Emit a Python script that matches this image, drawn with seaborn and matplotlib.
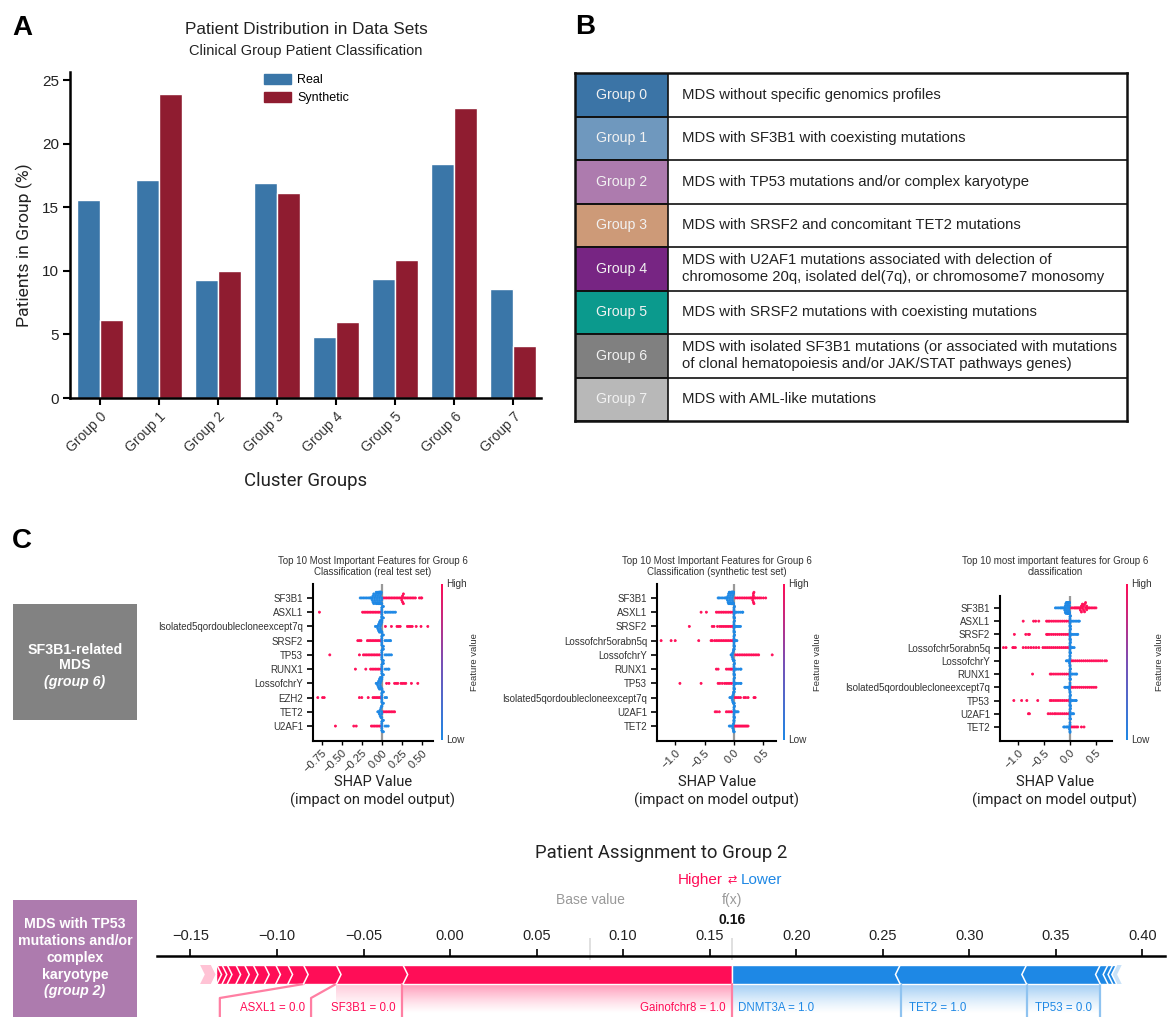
import warnings
import numpy as np
import pandas as pd
import matplotlib
matplotlib.use("Agg")
import matplotlib.pyplot as plt
from matplotlib import font_manager as fm
from matplotlib.colors import LinearSegmentedColormap, to_rgb
from matplotlib.patches import Patch
import seaborn as sns

warnings.filterwarnings("ignore")
W, H = 1175, 1029

groups = ["Group 0", "Group 1", "Group 2", "Group 3", "Group 4", "Group 5", "Group 6", "Group 7"]
real_pct = [15.6, 17.1, 9.25, 16.9, 4.8, 9.35, 18.4, 8.55]
synth_pct = [6.1, 23.9, 9.95, 16.1, 5.95, 10.85, 22.8, 4.05]
group_colors = ["#3B74A6", "#6F98BE", "#AD7BAE", "#CD9A78", "#772583", "#0B9A8D", "#808080", "#B8B8B8"]
group_desc = [
    "MDS without specific genomics profiles",
    "MDS with SF3B1 with coexisting mutations",
    "MDS with TP53 mutations and/or complex karyotype",
    "MDS with SRSF2 and concomitant TET2 mutations",
    "MDS with U2AF1 mutations associated with delection of\nchromosome 20q, isolated del(7q), or chromosome7 monosomy",
    "MDS with SRSF2 mutations with coexisting mutations",
    "MDS with isolated SF3B1 mutations (or associated with mutations\nof clonal hematopoiesis and/or JAK/STAT pathways genes)",
    "MDS with AML-like mutations",
]

# SHAP beeswarm, real test set
names_1 = ["SF3B1", "ASXL1", "Isolated5qordoublecloneexcept7q", "SRSF2", "TP53", "RUNX1", "LossofchrY", "EZH2", "TET2", "U2AF1"]
high_1 = [
    [0.02, 0.04, 0.06, 0.08, 0.10, 0.12, 0.14, 0.16, 0.18, 0.20, 0.22, 0.24, 0.25, 0.25, 0.26, 0.26, 0.27, 0.27, 0.28, 0.30, 0.32, 0.34, 0.36, 0.38, 0.40, 0.42, 0.47, 0.49, 0.50],
    [-0.78, -0.24, -0.22, -0.20, -0.18, -0.16, -0.14, -0.12, -0.10, -0.08, -0.06, -0.04, -0.02],
    [0.045, 0.12, 0.19, 0.21, 0.23, 0.32, 0.34, 0.36, 0.38, 0.43, 0.49, 0.575],
    [-0.30, -0.28, -0.26, -0.18, -0.16, -0.14, -0.12, -0.10, -0.08, -0.06, -0.04, -0.02],
    [-0.65, -0.28, -0.23, -0.21, -0.19, -0.17, -0.15, -0.13, -0.11, -0.09, -0.07, -0.05, -0.03],
    [-0.33, -0.20, -0.14, -0.12, -0.10, -0.08, -0.06, -0.04, -0.02],
    [0.06, 0.09, 0.16, 0.18, 0.20, 0.24, 0.26, 0.28, 0.30, 0.37, 0.45],
    [-0.80, -0.74, -0.72, -0.28, -0.25, -0.17, -0.11, -0.09, -0.07, -0.05, -0.03, -0.01],
    [0.02, 0.04, 0.06, 0.08, 0.10, 0.12, 0.14, 0.16],
    [-0.58, -0.35, -0.32, -0.13, -0.11, -0.09, -0.07, -0.05, -0.03, -0.01],
]
low_1 = [
    [-0.27, -0.25, -0.23, -0.21, -0.19, -0.17, -0.15, -0.14, -0.13, -0.12, -0.12, -0.11, -0.11, -0.10, -0.10, -0.09, -0.09, -0.08, -0.08, -0.07, -0.07, -0.07, -0.06, -0.06, -0.06, -0.05, -0.05, -0.05, -0.04, -0.04, -0.04, -0.04] + [-0.03] * 5 + [-0.02] * 7 + [-0.01] * 7 + [0.0] * 3,
    [0.0] * 6 + [0.01, 0.01, 0.02, 0.02, 0.04, 0.05, 0.07, 0.09, 0.11, 0.13, 0.15, 0.17],
    [-0.08, -0.06, -0.05, -0.05, -0.04, -0.04, -0.03, -0.03, -0.02, -0.02, -0.02] + [-0.01] * 4 + [0.0] * 6,
    [0.0] * 5 + [0.01, 0.01, 0.02, 0.02, 0.04, 0.06, 0.08, 0.10, 0.11],
    [0.0] * 5 + [0.01, 0.01, 0.02, 0.02, 0.04, 0.06, 0.08, 0.10, 0.12],
    [0.0] * 5 + [0.01, 0.01, 0.02, 0.02, 0.04, 0.06, 0.08, 0.09],
    [-0.07, -0.06, -0.05, -0.05, -0.04, -0.04, -0.03, -0.03, -0.02, -0.02, -0.02] + [-0.01] * 4 + [0.0] * 6,
    [0.0] * 5 + [0.01, 0.01, 0.02, 0.02, 0.04, 0.06],
    [-0.05, -0.04, -0.03, -0.03, -0.02, -0.02, -0.01, -0.01] + [0.0] * 5,
    [0.0] * 5 + [0.01, 0.01, 0.02, 0.02, 0.04, 0.06, 0.08],
]

# SHAP beeswarm, synthetic test set
names_2 = ["SF3B1", "ASXL1", "SRSF2", "Lossofchr5orabn5q", "LossofchrY", "RUNX1", "TP53", "Isolated5qordoublecloneexcept7q", "U2AF1", "TET2"]
high_2 = [
    [0.03, 0.06, 0.09, 0.12, 0.15, 0.18, 0.21, 0.24, 0.27, 0.29, 0.31, 0.32, 0.32, 0.33, 0.33, 0.33, 0.34, 0.34, 0.35, 0.37, 0.40, 0.43, 0.46, 0.50, 0.54],
    [-0.56, -0.47, -0.30, -0.27, -0.24, -0.21, -0.18, -0.15, -0.12, -0.09, -0.06, -0.03],
    [-0.76, -0.37, -0.34, -0.28, -0.24, -0.21, -0.18, -0.15, -0.12, -0.09, -0.06, -0.03],
    [-1.24, -1.07, -1.00, -0.60, -0.39, -0.37, -0.33, -0.30, -0.27, -0.24, -0.21, -0.18, -0.15, -0.12, -0.09, -0.06, -0.03],
    [0.03, 0.06, 0.09, 0.12, 0.15, 0.18, 0.21, 0.24, 0.27, 0.30, 0.33, 0.36, 0.39, 0.42, 0.65],
    [-0.30, -0.27, -0.13, -0.10, -0.07, -0.05, -0.03],
    [-0.92, -0.56, -0.27, -0.24, -0.20, -0.16, -0.13, -0.10, -0.07, -0.04],
    [0.02, 0.05, 0.08, 0.11, 0.17, 0.20, 0.24, 0.34, 0.36],
    [-0.32, -0.29, -0.25, -0.13, -0.10, -0.07, -0.04],
    [0.02, 0.04, 0.06, 0.08, 0.10, 0.12, 0.14, 0.16, 0.18, 0.20, 0.22, 0.24],
]
low_2 = [
    [-0.27, -0.25, -0.22, -0.19, -0.16, -0.14, -0.13, -0.12, -0.11, -0.11, -0.10, -0.10, -0.09, -0.09, -0.08, -0.08, -0.07, -0.07, -0.07, -0.06, -0.06, -0.06, -0.05, -0.05, -0.05] + [-0.04] * 5 + [-0.03] * 6 + [-0.02] * 7 + [-0.01] * 7,
    [0.0] * 6 + [0.01, 0.01, 0.02, 0.03, 0.05, 0.08, 0.11, 0.14, 0.15],
    [0.0] * 6 + [0.01, 0.01, 0.02, 0.03, 0.05, 0.07, 0.09, 0.11],
    [0.0] * 6 + [0.01, 0.01, 0.02, 0.03, 0.05],
    [-0.05, -0.04, -0.03, -0.03, -0.02, -0.02, -0.01, -0.01] + [0.0] * 6,
    [0.0] * 6 + [0.01, 0.01, 0.02, 0.03, 0.05, 0.08, 0.11, 0.12],
    [0.0] * 6 + [0.01, 0.01, 0.02, 0.03, 0.05, 0.08, 0.11, 0.12],
    [-0.07, -0.05, -0.03, -0.03, -0.02, -0.02, -0.01, -0.01] + [0.0] * 6,
    [0.0] * 6 + [0.01, 0.01, 0.02, 0.03, 0.05, 0.07],
    [-0.08, -0.06, -0.04, -0.02, -0.02, -0.01, -0.01] + [0.0] * 6,
]

# SHAP beeswarm, third panel
names_3 = ["SF3B1", "ASXL1", "SRSF2", "Lossofchr5orabn5q", "LossofchrY", "RUNX1", "Isolated5qordoublecloneexcept7q", "TP53", "U2AF1", "TET2"]
high_3 = [
    [0.02, 0.05, 0.08, 0.10, 0.12, 0.14, 0.16, 0.18, 0.20, 0.20, 0.22, 0.22, 0.24, 0.24, 0.26, 0.26, 0.28, 0.28, 0.30, 0.30, 0.32, 0.32, 0.34, 0.36, 0.38, 0.41, 0.44, 0.47, 0.50],
    [-0.90, -0.70, -0.66, -0.60, -0.45, -0.42, -0.39, -0.35, -0.31, -0.27, -0.23, -0.19, -0.15, -0.11, -0.07, -0.03],
    [-1.07, -0.85, -0.80, -0.78, -0.45, -0.43, -0.40, -0.36, -0.32, -0.28, -0.24, -0.20, -0.16, -0.12, -0.08, -0.04],
    [-1.28, -1.23, -1.10, -1.08, -1.05, -0.90, -0.85, -0.80, -0.75, -0.70, -0.65, -0.60, -0.52, -0.48, -0.44, -0.40, -0.36, -0.32, -0.28, -0.24, -0.20, -0.16, -0.12, -0.08, -0.04],
    [0.03, 0.06, 0.10, 0.14, 0.18, 0.22, 0.26, 0.30, 0.34, 0.38, 0.42, 0.46, 0.50, 0.54, 0.58, 0.62, 0.67, 0.70],
    [-0.72, -0.38, -0.35, -0.31, -0.27, -0.23, -0.19, -0.15, -0.11, -0.07, -0.03],
    [0.03, 0.06, 0.10, 0.14, 0.18, 0.22, 0.26, 0.30, 0.34, 0.38, 0.42, 0.46, 0.50],
    [-1.08, -0.93, -0.83, -0.62, -0.38, -0.35, -0.31, -0.27, -0.23, -0.19, -0.15, -0.11, -0.07, -0.03],
    [-0.80, -0.78, -0.42, -0.38, -0.34, -0.30, -0.27, -0.23, -0.19, -0.15, -0.11, -0.07, -0.03],
    [0.03, 0.06, 0.09, 0.12, 0.15, 0.22, 0.27],
]
low_3 = [
    [-0.28, -0.25, -0.22, -0.19, -0.17, -0.15, -0.13, -0.11, -0.10, -0.10, -0.09, -0.09, -0.08, -0.08, -0.07, -0.07, -0.06, -0.06, -0.06, -0.05, -0.05, -0.05] + [-0.04] * 5 + [-0.03] * 6 + [-0.02] * 7 + [-0.01] * 6,
    [0.0] * 6 + [0.01, 0.01, 0.02, 0.04, 0.07, 0.10, 0.13, 0.16, 0.18],
    [0.0] * 6 + [0.01, 0.01, 0.02, 0.04, 0.07, 0.10, 0.13, 0.15],
    [0.0] * 6 + [0.01, 0.01, 0.03, 0.05, 0.08],
    [-0.07, -0.05, -0.03, -0.01, -0.01] + [0.0] * 5,
    [0.0] * 6 + [0.01, 0.01, 0.03, 0.05, 0.08, 0.11, 0.13],
    [-0.10, -0.08, -0.05, -0.03, -0.01, -0.01] + [0.0] * 4,
    [0.0] * 6 + [0.01, 0.01, 0.03, 0.05, 0.08, 0.11, 0.12],
    [0.0] * 6 + [0.01, 0.01, 0.03, 0.05, 0.07],
    [-0.12, -0.10, -0.07, -0.05, -0.03, -0.01, -0.01] + [0.0] * 4,
]

# Force plot
force_ticks = [-0.15, -0.10, -0.05, 0.00, 0.05, 0.10, 0.15, 0.20, 0.25, 0.30, 0.35, 0.40]
force_start = -0.1444
force_end = 0.388
base_value = 0.081
fx_value = 0.163
high_edges = [-0.135, -0.132, -0.129, -0.126, -0.121, -0.116, -0.111, -0.1045, -0.098, -0.091, -0.082, -0.063, -0.0245]
low_edges = [0.260, 0.333, 0.3756, 0.380, 0.3828, 0.385]

PINK, BLUE = "#FF0D57", "#1E88E5"

sns.set_theme(style="ticks")
avail = {f.name for f in fm.fontManager.ttflist}
NARROW = "Liberation Sans Narrow" if "Liberation Sans Narrow" in avail else "Roboto"
BODY = "Liberation Sans"
plt.rcParams["font.family"] = [BODY, "DejaVu Sans"]
plt.rcParams["axes.edgecolor"] = "black"
plt.rcParams["xtick.color"] = "black"
plt.rcParams["ytick.color"] = "black"
plt.rcParams["text.color"] = "black"

fig = plt.figure(figsize=(W / 100, H / 100), dpi=100, facecolor="white")


def axpx(l, t, r, b, **kw):
    return fig.add_axes([l / W, 1 - b / H, (r - l) / W, (b - t) / H], **kw)


def tx(x, y, s, **kw):
    kw.setdefault("ha", "center")
    kw.setdefault("va", "center")
    return fig.text(x / W, 1 - y / H, s, **kw)


# ---------- Panel A
axA = axpx(70, 72, 541, 398)
dfA = pd.DataFrame({
    "group": groups * 2,
    "pct": real_pct + synth_pct,
    "set": ["Real"] * len(groups) + ["Synthetic"] * len(groups),
})
sns.barplot(data=dfA, x="group", y="pct", hue="set", palette=["#3A76A8", "#8F1C30"], saturation=1,
            width=0.78, gap=0, errorbar=None, legend=False, ax=axA)
axA.set_xlim(-0.51, 7.47)
axA.set_ylim(0, 25.63)
axA.set_xlabel("")
axA.set_ylabel("")
sns.despine(ax=axA)
for s in ("left", "bottom"):
    axA.spines[s].set_linewidth(1.8)
axA.set_yticks([0, 5, 10, 15, 20, 25])
axA.tick_params(axis="y", labelsize=11, width=1.5, length=5, pad=3)
axA.tick_params(axis="x", labelsize=10, width=1.5, length=5, pad=3)
plt.setp(axA.get_xticklabels(), rotation=45, ha="right", rotation_mode="anchor", color="#333333")
plt.setp(axA.get_yticklabels(), color="#222222")
axA.legend(handles=[Patch(color="#3A76A8", label="Real"), Patch(color="#8F1C30", label="Synthetic")],
           loc="upper left", bbox_to_anchor=((253 - 70) / 471, 1.028), frameon=False, fontsize=9,
           handlelength=2.15, handleheight=0.8, labelspacing=0.48, handletextpad=0.5)
tx(306, 30, "Patient Distribution in Data Sets", fontsize=12.3, color="#222222")
tx(306, 51, "Clinical Group Patient Classification", fontsize=10.5, color="#222222")
tx(24, 245, "Patients in Group (%)", fontsize=12.6, rotation=90, family=NARROW, color="#222222")
tx(306, 481, "Cluster Groups", fontsize=13.4, family=NARROW, color="#222222")
tx(22, 28, "A", fontsize=20, fontweight="bold")
tx(585, 27, "B", fontsize=20, fontweight="bold")
tx(22, 541, "C", fontsize=20, fontweight="bold")

# ---------- Panel B
axB = axpx(575, 73, 1127, 421)
axB.barh(range(len(groups)), 93, height=1, left=0, color=group_colors, edgecolor="#111111", linewidth=1.2)
axB.set_xlim(0, 552)
axB.set_ylim(len(groups) - 0.5, -0.5)
axB.set_xticks([])
axB.set_yticks([])
axB.hlines(np.arange(0.5, len(groups) - 0.5), 0, 552, color="#111111", lw=1.2)
for s in axB.spines.values():
    s.set_linewidth(1.8)
    s.set_color("#111111")
for i, (g, d) in enumerate(zip(groups, group_desc)):
    axB.text(46.5, i, g, ha="center", va="center", color="#F2F2F2", fontsize=10.2)
    axB.text(107, i, d, ha="left", va="center", color="#222222", fontsize=10.7, linespacing=1.25)

# ---------- Panel C: beeswarms
cmap = LinearSegmentedColormap.from_list("shap", [BLUE, "#7A4FB5", PINK])
swarm_axes = []


def beeswarm(box, names, highs, lows, xt, xl, yl, title, tcx, cbx, fvx):
    ax = axpx(*box)
    swarm_axes.append(ax)
    rows = []
    for n, hi, lo in zip(names, highs, lows):
        rows += [(n, v, "High") for v in hi] + [(n, v, "Low") for v in lo]
    df = pd.DataFrame(rows, columns=["feature", "shap", "level"])
    stacked = df.duplicated(subset=["feature", "shap", "level"], keep=False)
    ax.axvline(0, color="#999999", lw=1.6, zorder=1)
    common = dict(x="shap", y="feature", hue="level", order=names, hue_order=["High", "Low"],
                  palette=[PINK, BLUE], size=1.5, linewidth=0, orient="h", legend=False, ax=ax, zorder=3)
    # single readings lie on the row line, repeated readings pile up around it
    sns.stripplot(data=df[~stacked], jitter=False, **common)
    sns.swarmplot(data=df[stacked], warn_thresh=1, **common)
    ax.set_xlim(*xl)
    ax.set_ylim(*yl)
    ax.set_xlabel("")
    ax.set_ylabel("")
    sns.despine(ax=ax)
    for s in ("left", "bottom"):
        ax.spines[s].set_linewidth(1.5)
    ax.set_xticks(xt[0])
    ax.set_xticklabels(xt[1], rotation=45, ha="right", rotation_mode="anchor", fontsize=8, color="#333333")
    ax.tick_params(axis="x", width=1, length=3, pad=2)
    ax.tick_params(axis="y", width=1.2, length=4, pad=3, labelsize=7, labelcolor="#333333")
    tx(tcx, 566.5, title, fontsize=7, color="#333333", linespacing=1.1)
    tx(tcx, 782, "SHAP Value", fontsize=10.5, family=NARROW, color="#222222")
    tx(tcx, 800.5, "(impact on model output)", fontsize=10.5, family=NARROW, color="#222222")
    cb = axpx(cbx - 1, 584, cbx + 1, 740)
    cb.imshow(np.linspace(1, 0, 128)[:, None], aspect="auto", cmap=cmap)
    cb.axis("off")
    tx(cbx + 4, 584, "High", fontsize=7.2, ha="left", color="#333333")
    tx(cbx + 4, 740, "Low", fontsize=7.2, ha="left", color="#333333")
    tx(fvx, 662, "Feature value", fontsize=6.8, rotation=90, color="#333333")


beeswarm((313, 584, 433, 741), names_1, high_1, low_1,
         ([-0.75, -0.50, -0.25, 0.0, 0.25, 0.50], ["−0.75", "−0.50", "−0.25", "0.00", "0.25", "0.50"]),
         (-0.86, 0.64), (10.05, -0.98),
         "Top 10 Most Important Features for Group 6\nClassification (real test set)", 373, 442, 475)
beeswarm((657, 584, 776, 741), names_2, high_2, low_2,
         ([-1.0, -0.5, 0.0, 0.5], ["−1.0", "−0.5", "0.0", "0.5"]),
         (-1.31, 0.715), (10.05, -0.98),
         "Top 10 Most Important Features for Group 6\nClassification (synthetic test set)", 717, 784, 818)
beeswarm((1000, 596, 1112, 741), names_3, high_3, low_3,
         ([-1.0, -0.5, 0.0, 0.5], ["−1.0", "−0.5", "0.0", "0.5"]),
         (-1.346, 0.808), (10.06, -0.9),
         "Top 10 most important features for Group 6\nclassification", 1055, 1127, 1160)

# side boxes
box1 = axpx(13, 604, 137, 720)
box1.set_facecolor("#828282")
box1.set_xticks([])
box1.set_yticks([])
for s in box1.spines.values():
    s.set_visible(False)
tx(75, 650, "SF3B1-related", fontsize=10.2, fontweight="bold", color="white")
tx(75, 665, "MDS", fontsize=10.2, fontweight="bold", color="white")
tx(75, 682, "(group 6)", fontsize=10.2, fontweight="bold", style="italic", color="white")
box2 = axpx(13, 900, 137, 1017)
box2.set_facecolor("#AD7BAE")
box2.set_xticks([])
box2.set_yticks([])
for s in box2.spines.values():
    s.set_visible(False)
for yy, t in zip([924, 941, 958, 975], ["MDS with TP53", "mutations and/or", "complex", "karyotype"]):
    tx(75, yy, t, fontsize=10.2, fontweight="bold", color="white")
tx(75, 991, "(group 2)", fontsize=10.2, fontweight="bold", style="italic", color="white")

# ---------- Force plot
axF = axpx(157, 956, 1165, 1017)
xl = (-0.1693, 0.413)


def fade(ax, x0, x1, y0, y1, color, a):
    rgb = np.array(to_rgb(color))
    n = 64
    img = np.zeros((n, 2, 4))
    img[..., :3] = rgb
    img[..., 3] = (np.linspace(1, 0, n) ** 1.3 * a)[:, None]
    ax.imshow(img, extent=(x0, x1, y1, y0), aspect="auto", interpolation="bilinear", zorder=1)


fade(axF, -0.0659, -0.0277, 984, 1012, PINK, 0.22)
fade(axF, -0.0277, fx_value, 984, 1014, PINK, 0.42)
fade(axF, fx_value, 0.3756, 984, 1014, BLUE, 0.42)

band_y, band_h = 974.5, 19
d = 0.0027
axF.barh([band_y], [fx_value - high_edges[0]], left=high_edges[0], height=band_h, color=PINK, zorder=2)
axF.barh([band_y], [low_edges[-1] - fx_value], left=fx_value, height=band_h, color=BLUE, zorder=2)
yt, ym, yb = band_y - band_h / 2, band_y, band_y + band_h / 2
axF.fill([force_start, high_edges[0] - d, high_edges[0], high_edges[0] - d, force_start, force_start + d],
         [yt, yt, ym, yb, yb, ym], color="#FFC3D5", lw=0, zorder=2)
axF.fill([force_end, low_edges[-1], low_edges[-1] - d, low_edges[-1], force_end, force_end - d],
         [yt, yt, ym, yb, yb, ym], color="#C9E2F8", lw=0, zorder=2)
for e in high_edges:
    axF.plot([e - d, e, e - d], [yt, ym, yb], color="white", lw=1.1, zorder=3, solid_joinstyle="miter")
for e in low_edges:
    axF.plot([e, e - d, e], [yt, ym, yb], color="white", lw=1.1, zorder=3, solid_joinstyle="miter")

LP, LB = "#FF7FA3", "#8FC3F0"
axF.plot([-0.0846, -0.133, -0.133], [984, 998, 1017], color=LP, lw=1.6, zorder=2)
axF.plot([-0.0659, -0.0803, -0.0803], [984, 998, 1017], color=LP, lw=1.6, zorder=2)
axF.plot([-0.0277, -0.0277], [984, 1017], color=LP, lw=1.6, zorder=2)
axF.plot([fx_value, fx_value], [984, 1017], color=LP, lw=1.6, zorder=2)
for v in (0.2605, 0.3335, 0.3756):
    axF.plot([v, v], [984, 1017], color=LB, lw=1.6, zorder=2)
axF.vlines([base_value, fx_value], 938, 960, color="#DDDDDD", lw=1.3, clip_on=False, zorder=0)

axF.set_xlim(*xl)
axF.set_ylim(1017, 956)
axF.set_facecolor("none")
for s in ("left", "right", "bottom"):
    axF.spines[s].set_visible(False)
axF.spines["top"].set_linewidth(1.8)
axF.set_yticks([])
axF.xaxis.tick_top()
axF.set_xticks(force_ticks)
axF.set_xticklabels([f"{v:.2f}".replace("-", "−") for v in force_ticks], fontsize=10.5, color="#222222")
axF.tick_params(axis="x", width=1.2, length=5, pad=4)

tx(661, 853, "Patient Assignment to Group 2", fontsize=13.3, family=NARROW, color="#222222")
tx(723, 880, "Higher", fontsize=11, ha="right", color=PINK)
tx(732, 880, "⇄", fontsize=8, family="DejaVu Sans", color=PINK)
tx(741, 880, "Lower", fontsize=11, ha="left", color=BLUE)
tx(590, 900, "Base value", fontsize=10, color="#999999")
tx(732, 900, "f(x)", fontsize=10, color="#999999")
tx(732, 920, "0.16", fontsize=10, fontweight="bold", color="#111111")
tx(273, 1008, "ASXL1 = 0.0", fontsize=8.3, color=PINK)
tx(363.5, 1008, "SF3B1 = 0.0", fontsize=8.3, color=PINK)
tx(726, 1008, "Gainofchr8 = 1.0", fontsize=8.3, ha="right", color=PINK)
tx(737.5, 1008, "DNMT3A = 1.0", fontsize=8.3, ha="left", color=BLUE)
tx(909, 1008, "TET2 = 1.0", fontsize=8.3, ha="left", color=BLUE)
tx(1035, 1008, "TP53 = 0.0", fontsize=8.3, ha="left", color=BLUE)

# settle the swarm layout once, then close the small gaps between the packed dots
fig.canvas.draw()
for ax in swarm_axes:
    for coll in ax.collections:
        coll.__dict__.pop("draw", None)
        coll.set_linewidth(0.55)
        coll.set_edgecolor("face")

fig.savefig("out.png", dpi=100, facecolor="white")
